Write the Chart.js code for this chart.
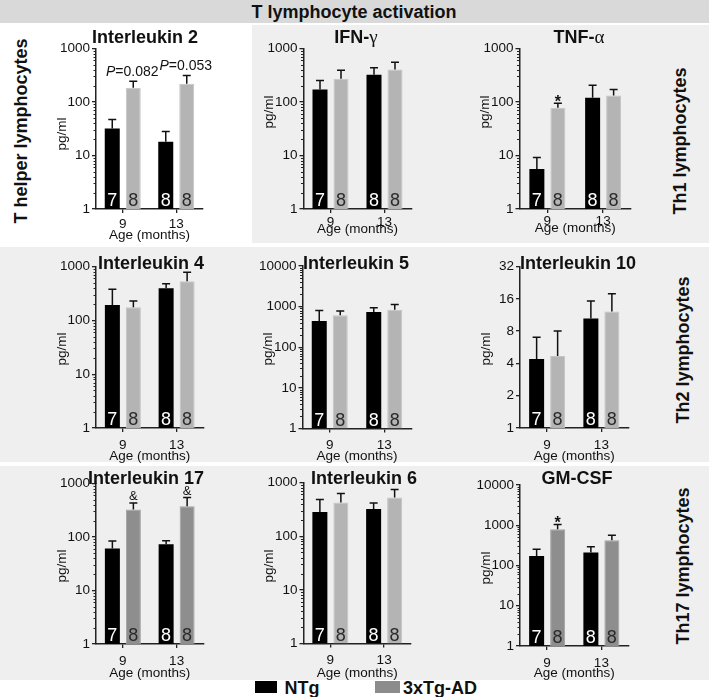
<!DOCTYPE html>
<html>
<head>
<meta charset="utf-8">
<script src="https://cdn.jsdelivr.net/npm/chart.js@4.4.0/dist/chart.umd.min.js"></script>
<style>
  body { margin: 0; width: 709px; height: 697px; position: relative; background: #fff; overflow: hidden;
         font-family: "Liberation Sans", Arial, sans-serif; }
  .box { position: absolute; }
  .lbl { position: absolute; font-weight: bold; font-size: 18px; line-height: 18px; white-space: nowrap; color: #111; }
  .rot { transform: translate(-50%, -50%) rotate(-90deg); }
  canvas { position: absolute; }
</style>
</head>
<body>
<div class="box" style="left:0;top:0;width:709px;height:23px;background:#d9d9d9"></div>
<div class="box" style="left:252px;top:25px;width:457px;height:218px;background:#efefef"></div>
<div class="box" style="left:0;top:247px;width:709px;height:215px;background:#efefef"></div>
<div class="box" style="left:0;top:466px;width:709px;height:214px;background:#efefef"></div>
<div id="texts"></div>
<div id="charts"></div>

<script>
// figure text
var header = 'T lymphocyte activation';
var rowLabels = ['T helper lymphocytes', 'Th1 lymphocytes', 'Th2 lymphocytes', 'Th17 lymphocytes'];
var legendLabels = ['NTg', '3xTg-AD'];

// one entry per panel (left to right, top to bottom)
var titles = ['Interleukin 2', 'IFN-γ', 'TNF-α', 'Interleukin 4', 'Interleukin 5', 'Interleukin 10',
              'Interleukin 17', 'Interleukin 6', 'GM-CSF'];
var ages = ['9', '13'];

// mean values (pg/ml) at 9 and 13 months
var ntgMean = [[32, 18], [171, 322], [5.6, 120], [193, 394], [441, 734], [4.4, 10.5], [61, 73], [283, 321], [171, 211]];
var tgMean  = [[185, 219], [272, 405], [78, 132], [175, 533], [609, 840], [4.7, 12.2], [326, 376], [423, 524], [800, 427]];
// top of the error bar (mean + SEM)
var ntgErrTop = [[47, 28], [251, 435], [9.2, 205], [378, 480], [807, 940], [7.0, 15.3], [84, 85], [480, 415], [255, 291]];
var tgErrTop  = [[245, 313], [392, 552], [95, 172], [229, 783], [776, 1135], [8.0, 17.8], [433, 546], [621, 740], [1047, 568]];

// group sizes written in the bars
var nNtg = ['7', '8'];
var nTg = ['8', '8'];

// y axis ticks
var yTicks = [
  [1, 10, 100, 1000], [1, 10, 100, 1000], [1, 10, 100, 1000],
  [1, 10, 100, 1000], [1, 10, 100, 1000, 10000], [1, 2, 4, 8, 16, 32],
  [1, 10, 100, 1000], [1, 10, 100, 1000], [1, 10, 100, 1000, 10000]
];

// significance marks above the 3xTg-AD bars
var marks = [['P=0.082', 'P=0.053'], [null, null], ['*', null], [null, null], [null, null], [null, null],
             ['&', '&'], [null, null], ['*', null]];

// 3xTg-AD bar colour per panel
var tgDark = [false, false, false, false, false, false, true, false, true];

// ---- layout (page pixels) ----
var FONT = '"Liberation Sans", Arial, sans-serif';
var panels = [
  {l: 96,  t: 48.5, r: 203,  b: 209,   titleX: 145, titleY: 36,  yTitleY: 134, tickPad: 3, ageY: 235},
  {l: 303.5, t: 48.5, r: 411.5, b: 209, titleX: 356, titleY: 36,  yTitleY: 112, tickPad: 1, ageY: 229},
  {l: 519.5, t: 48.5, r: 631, b: 209,  titleX: 579, titleY: 36,  yTitleY: 112, tickPad: 0, ageY: 228},
  {l: 96,  t: 266.5, r: 203.5, b: 428, titleX: 151, titleY: 262, yTitleY: 349, tickPad: 5, ageY: 456},
  {l: 302.5, t: 266, r: 411.5, b: 428.5, titleX: 356, titleY: 262, yTitleY: 349, tickPad: 5, ageY: 456},
  {l: 520, t: 266.5, r: 628.5, b: 428,  titleX: 578, titleY: 262, yTitleY: 349, tickPad: 5, ageY: 456},
  {l: 96,  t: 483.5, r: 203.5, b: 644, titleX: 146, titleY: 477, yTitleY: 566, tickPad: 5, ageY: 673},
  {l: 303.5, t: 482.5, r: 411, b: 643.5, titleX: 364, titleY: 477, yTitleY: 566, tickPad: 5, ageY: 673},
  {l: 520, t: 485, r: 628.5, b: 646,   titleX: 577, titleY: 477, yTitleY: 568, tickPad: 5, ageY: 673}
];

// page texts
var texts = document.getElementById('texts');
function addText(str, x, y, rotated, size) {
  var d = document.createElement('div');
  d.className = 'lbl' + (rotated ? ' rot' : '');
  d.textContent = str;
  d.style.left = x + 'px';
  d.style.top = y + 'px';
  if (size) { d.style.fontSize = size + 'px'; }
  if (!rotated) { d.style.transform = 'translate(-50%, -50%)'; }
  texts.appendChild(d);
}
addText(header, 354, 12, false);
addText(rowLabels[0], 21, 131, true);
addText(rowLabels[1], 680, 141, true);
addText(rowLabels[2], 683, 350, true);
addText(rowLabels[3], 683, 566, true);

var sw1 = document.createElement('div');
sw1.className = 'box';
sw1.style.cssText = 'left:255px;top:681px;width:22px;height:12px;background:#000';
texts.appendChild(sw1);
var sw2 = document.createElement('div');
sw2.className = 'box';
sw2.style.cssText = 'left:375px;top:681px;width:25px;height:12px;background:#8c8c8c';
texts.appendChild(sw2);
addText(legendLabels[0], 302, 688, false);
addText(legendLabels[1], 440, 688, false);

function drawMark(ctx, m, x, y) {
  ctx.fillStyle = '#111';
  ctx.textBaseline = 'alphabetic';
  if (m.indexOf('P=') === 0) {
    ctx.font = 'italic 14px ' + FONT;
    var w1 = ctx.measureText('P').width;
    ctx.font = '14px ' + FONT;
    var w2 = ctx.measureText(m.slice(1)).width;
    var x0 = x - 1 - (w1 + w2) / 2;
    ctx.textAlign = 'left';
    ctx.font = 'italic 14px ' + FONT;
    ctx.fillText('P', x0, y - 5);
    ctx.font = '14px ' + FONT;
    ctx.fillText(m.slice(1), x0 + w1, y - 5);
  } else if (m === '*') {
    ctx.font = 'bold 16px ' + FONT;
    ctx.textAlign = 'center';
    ctx.fillText('*', x, y + 3.5);
  } else {
    ctx.font = '13px ' + FONT;
    ctx.textAlign = 'center';
    ctx.fillText(m, x, y - 3);
  }
}

// bold title, greek letters in a plain serif face
function drawTitle(ctx, str, x, y) {
  var bold = 'bold 18px ' + FONT, greek = '19px "Liberation Serif", serif';
  var m = str.match(/^(.*?)([α-ω]?)$/);
  ctx.font = bold;
  var w1 = ctx.measureText(m[1]).width;
  ctx.font = greek;
  var w2 = m[2] ? ctx.measureText(m[2]).width : 0;
  var x0 = x - (w1 + w2) / 2;
  ctx.textAlign = 'left';
  ctx.textBaseline = 'alphabetic';
  ctx.font = bold;
  ctx.fillText(m[1], x0, y + 6.5);
  if (m[2]) {
    ctx.font = greek;
    ctx.fillText(m[2], x0 + w1, y + 6.5);
  }
}

var decor = {
  id: 'decor',
  afterDatasetsDraw: function(chart, args, opts) {
    var i = opts.idx;
    var ctx = chart.ctx, area = chart.chartArea, ys = chart.scales.y;
    var tops = [ntgErrTop[i], tgErrTop[i]];
    var ns = [nNtg, nTg];
    chart.data.datasets.forEach(function(ds, d) {
      chart.getDatasetMeta(d).data.forEach(function(bar, j) {
        var yTop = ys.getPixelForValue(tops[d][j]);
        ctx.save();
        ctx.strokeStyle = '#111';
        ctx.lineWidth = 1.5;
        ctx.beginPath();
        ctx.moveTo(bar.x, bar.y);
        ctx.lineTo(bar.x, yTop);
        ctx.moveTo(bar.x - 4, yTop);
        ctx.lineTo(bar.x + 4, yTop);
        ctx.stroke();
        ctx.fillStyle = d === 0 ? '#fff' : '#2a2a2a';
        ctx.font = '18px ' + FONT;
        ctx.textAlign = 'center';
        ctx.textBaseline = 'alphabetic';
        ctx.fillText(ns[d][j], bar.x, area.bottom - 3);
        if (d === 1 && marks[i][j]) drawMark(ctx, marks[i][j], bar.x, yTop);
        ctx.restore();
      });
    });
  },
  afterDraw: function(chart, args, opts) {
    var i = opts.idx, p = panels[i];
    var ctx = chart.ctx, area = chart.chartArea, ys = chart.scales.y;
    ctx.save();
    // minor ticks on decade axes
    if (yTicks[i][1] === 10) {
      ctx.strokeStyle = '#222';
      ctx.lineWidth = 1;
      ctx.beginPath();
      for (var dec = 1; dec < ys.max; dec *= 10) {
        for (var k = 2; k <= 9; k++) {
          var py = Math.round(ys.getPixelForValue(dec * k)) + 0.5;
          ctx.moveTo(area.left - 2.5, py);
          ctx.lineTo(area.left, py);
        }
      }
      ctx.stroke();
    }
    // panel title
    ctx.fillStyle = '#111';
    drawTitle(ctx, titles[i], p.titleX - opts.cx, p.titleY - opts.cy);
    // y title
    ctx.translate(p.l - 34 - opts.cx, p.yTitleY - opts.cy);
    ctx.rotate(-Math.PI / 2);
    ctx.font = '13.5px ' + FONT;
    ctx.textAlign = 'center';
    ctx.textBaseline = 'middle';
    ctx.fillText('pg/ml', 0, 0);
    ctx.restore();
  }
};

var holder = document.getElementById('charts');
panels.forEach(function(p, i) {
  var cx = Math.floor(p.l - 95), cy = Math.floor(p.t - 30);
  var cw = Math.ceil(p.r + 14 - cx), ch = Math.ceil(p.ageY + 12 - cy);
  var cv = document.createElement('canvas');
  cv.width = cw;
  cv.height = ch;
  cv.style.left = cx + 'px';
  cv.style.top = cy + 'px';
  cv.style.width = cw + 'px';
  cv.style.height = ch + 'px';
  holder.appendChild(cv);

  var gray = tgDark[i] ? '#8e8e8e' : '#b4b4b4';
  var grayEdge = tgDark[i] ? '#a2a2a2' : '#c4c4c4';
  var catW = (p.r - p.l) / 2;

  new Chart(cv.getContext('2d'), {
    type: 'bar',
    data: {
      labels: ages,
      datasets: [
        {label: legendLabels[0], data: ntgMean[i], backgroundColor: '#000', borderWidth: 0},
        {label: legendLabels[1], data: tgMean[i], backgroundColor: gray, borderColor: grayEdge, borderWidth: 1}
      ]
    },
    options: {
      responsive: false,
      animation: false,
      devicePixelRatio: 1,
      categoryPercentage: 42 / catW,
      barPercentage: 15 / 21,
      layout: {padding: {left: 0, top: p.t - cy, right: cx + cw - p.r, bottom: 0}},
      plugins: {
        legend: {display: false},
        tooltip: {enabled: false},
        decor: {idx: i, cx: cx, cy: cy}
      },
      scales: {
        x: {
          type: 'category',
          offset: true,
          afterFit: function(s) { s.height = cy + ch - p.b; },
          grid: {display: true, drawOnChartArea: false, offset: false, tickLength: 4, color: '#222', lineWidth: 1.3},
          border: {display: true, color: '#222', width: 1.5},
          ticks: {color: '#111', font: {size: 13.5, family: FONT}, padding: p.tickPad, maxRotation: 0},
          title: {display: true, text: 'Age (months)', color: '#111', font: {size: 13.5, family: FONT},
                  padding: {top: 0, bottom: 3.6}}
        },
        y: {
          type: 'logarithmic',
          min: 1,
          max: yTicks[i][yTicks[i].length - 1],
          afterFit: function(s) { s.width = p.l - cx; },
          afterBuildTicks: function(s) { s.ticks = yTicks[i].map(function(v) { return {value: v}; }); },
          grid: {display: true, drawOnChartArea: false, tickLength: 4, color: '#222', lineWidth: 1.3},
          border: {display: true, color: '#222', width: 1.5},
          ticks: {color: '#111', font: {size: 13.5, family: FONT}, padding: 2, autoSkip: false,
                  callback: function(v) { return String(v); }}
        }
      }
    },
    plugins: [decor]
  });
});
</script>
</body>
</html>
